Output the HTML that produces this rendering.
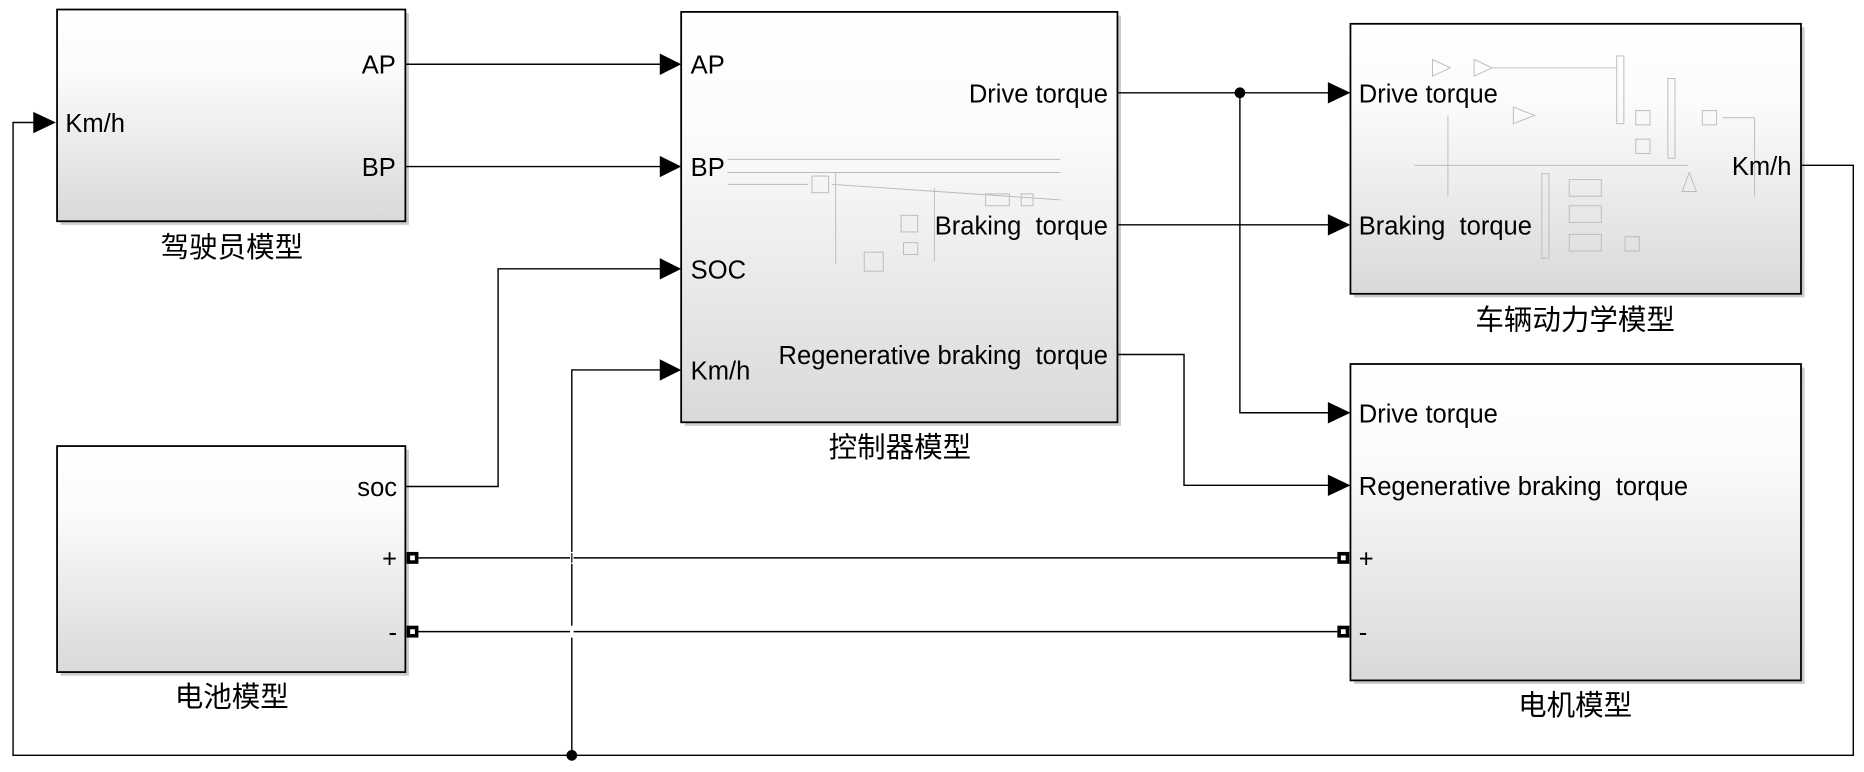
<!DOCTYPE html>
<html><head><meta charset="utf-8"><style>
html,body{margin:0;padding:0;background:#fff;}
svg{display:block;}
text{font-family:"Liberation Sans","Noto Sans CJK SC",sans-serif;fill:#000;}
.cn{font-family:"Noto Sans CJK SC","WenQuanYi Zen Hei",sans-serif;}
</style></head><body>
<svg width="1864" height="772" viewBox="0 0 1568 649" preserveAspectRatio="none" xmlns="http://www.w3.org/2000/svg">
<defs>
<linearGradient id="g" x1="0" y1="0" x2="0" y2="1">
<stop offset="0" stop-color="#ffffff"/><stop offset="0.3" stop-color="#fbfbfb"/><stop offset="1" stop-color="#d9d9d9"/>
</linearGradient>
</defs>
<g fill="#999" opacity="0.5">
<rect x="51" y="11" width="293" height="178"/>
<rect x="576" y="13" width="367" height="345"/>
<rect x="1139" y="23" width="379" height="227"/>
<rect x="1139" y="309" width="379" height="266"/>
<rect x="51" y="378" width="293" height="190"/>
</g>
<g fill="url(#g)" stroke="#000" stroke-width="1.5">
<rect x="48" y="8" width="293" height="178"/>
<rect x="573" y="10" width="367" height="345"/>
<rect x="1136" y="20" width="379" height="227"/>
<rect x="1136" y="306" width="379" height="266"/>
<rect x="48" y="375" width="293" height="190"/>
</g>
<g stroke="#bbb" stroke-width="0.8" fill="none">
<line x1="612" y1="134" x2="892" y2="134"/><line x1="612" y1="145" x2="892" y2="145"/>
<line x1="612" y1="155" x2="680" y2="155"/><line x1="700" y1="155" x2="892" y2="168"/>
<rect x="683" y="148" width="14" height="14"/><line x1="703" y1="145" x2="703" y2="222"/>
<rect x="758" y="181" width="14" height="14"/><rect x="760" y="204" width="12" height="10"/>
<rect x="727" y="212" width="16" height="16"/><line x1="786" y1="158" x2="786" y2="220"/>
<rect x="829" y="163" width="20" height="10"/><rect x="859" y="163" width="10" height="10"/>
</g>
<g stroke="#bbb" stroke-width="0.8" fill="none">
<path d="M1205 50 l15 7 l-15 7z M1240 50 l15 7 l-15 7z M1273 90 l18 7 l-18 7z"/>
<line x1="1255" y1="57" x2="1360" y2="57"/><rect x="1360" y="47" width="6" height="57"/>
<rect x="1403" y="66" width="6" height="67"/><rect x="1376" y="93" width="12" height="12"/>
<rect x="1376" y="117" width="12" height="12"/><rect x="1432" y="93" width="12" height="12"/>
<line x1="1218" y1="97" x2="1218" y2="165"/><line x1="1190" y1="139" x2="1420" y2="139"/>
<rect x="1297" y="146" width="6" height="71"/><rect x="1320" y="151" width="27" height="14"/>
<rect x="1320" y="173" width="27" height="14"/><rect x="1320" y="197" width="27" height="14"/>
<rect x="1367" y="199" width="12" height="12"/><path d="M1421 145 l-6 16 h12z"/>
<line x1="1449" y1="99" x2="1476" y2="99"/><line x1="1476" y1="99" x2="1476" y2="165"/>
</g>
<g stroke="#000" stroke-width="1.2" fill="none">
<line x1="341" y1="54" x2="558" y2="54"/>
<line x1="341" y1="140" x2="558" y2="140"/>
<polyline points="341,409 419,409 419,226 558,226"/>
<polyline points="481,635 481,311 558,311"/>
<line x1="940" y1="78" x2="1120" y2="78"/>
<polyline points="1043,78 1043,347 1120,347"/>
<line x1="940" y1="189" x2="1120" y2="189"/>
<polyline points="940,298 996,298 996,408 1120,408"/>
<line x1="352" y1="469" x2="1125" y2="469"/>
<line x1="352" y1="531" x2="1125" y2="531"/>
<polyline points="1515,139 1559,139 1559,635 11,635 11,103 30,103"/>
</g>
<g stroke="#fff" stroke-width="3"><line x1="481" y1="464" x2="481" y2="474"/><line x1="481" y1="526" x2="481" y2="536"/></g>
<g stroke="#000" stroke-width="1"><line x1="481" y1="465" x2="481" y2="473"/></g>
<g fill="#000">
<path d="M28 94 L47 103 L28 112Z"/>
<path d="M555 45 L573 54 L555 63Z"/><path d="M555 131 L573 140 L555 149Z"/>
<path d="M555 217 L573 226 L555 235Z"/><path d="M555 302 L573 311 L555 320Z"/>
<path d="M1117 69 L1136 78 L1117 87Z"/><path d="M1117 180 L1136 189 L1117 198Z"/>
<path d="M1117 338 L1136 347 L1117 356Z"/><path d="M1117 399 L1136 408 L1117 417Z"/>
<circle cx="1043" cy="78" r="4.5"/><circle cx="481" cy="635" r="4.5"/>
</g>
<g fill="#fff" stroke="#000" stroke-width="3">
<rect x="343.5" y="465.5" width="7" height="7"/><rect x="343.5" y="527.5" width="7" height="7"/>
<rect x="1126.5" y="465.5" width="7" height="7"/><rect x="1126.5" y="527.5" width="7" height="7"/>
</g>
<g font-size="21.5">
<text x="333" y="62" text-anchor="end">AP</text>
<text x="333" y="148" text-anchor="end">BP</text>
<text x="55" y="111">Km/h</text>
<text x="581" y="62">AP</text><text x="581" y="148">BP</text>
<text x="581" y="234">SOC</text><text x="581" y="319">Km/h</text>
<text x="932" y="86" text-anchor="end">Drive torque</text>
<text x="932" y="197" text-anchor="end" xml:space="preserve">Braking  torque</text>
<text x="932" y="306" text-anchor="end" xml:space="preserve">Regenerative braking  torque</text>
<text x="1143" y="86">Drive torque</text>
<text x="1143" y="197" xml:space="preserve">Braking  torque</text>
<text x="1507" y="147" text-anchor="end">Km/h</text>
<text x="1143" y="355">Drive torque</text>
<text x="1143" y="416" xml:space="preserve">Regenerative braking  torque</text>
<text x="1143" y="477">+</text><text x="1143" y="539">-</text>
<text x="334" y="417" text-anchor="end">soc</text>
<text x="334" y="477" text-anchor="end">+</text>
<text x="334" y="539" text-anchor="end">-</text>
</g>
<g font-size="24" class="cn" text-anchor="middle">
<text class="cn" x="195" y="216">驾驶员模型</text>
<text class="cn" x="757" y="384">控制器模型</text>
<text class="cn" x="1325" y="277">车辆动力学模型</text>
<text class="cn" x="1325" y="601">电机模型</text>
<text class="cn" x="195" y="594">电池模型</text>
</g>
</svg>
</body></html>
